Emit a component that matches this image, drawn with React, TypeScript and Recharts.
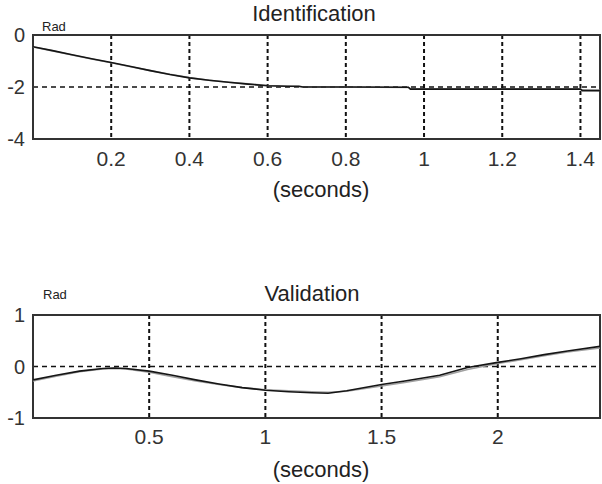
import { CartesianGrid, Line, LineChart, ReferenceArea, XAxis, YAxis } from "recharts";

const FONT = "'Liberation Sans', Arial, sans-serif";

// identification run
const idTime = [0, 0.05, 0.1, 0.15, 0.2, 0.25, 0.3, 0.35, 0.4, 0.45, 0.5, 0.55, 0.6, 0.65, 0.68, 0.69, 0.8, 0.96, 0.965, 1.2, 1.4, 1.405, 1.45];
const idMeasured = [-0.45, -0.6, -0.76, -0.91, -1.06, -1.21, -1.37, -1.52, -1.65, -1.74, -1.82, -1.89, -1.95, -1.97, -1.97, -2.0, -2.0, -2.01, -2.08, -2.08, -2.08, -2.14, -2.14];
const idModel = [-0.46, -0.61, -0.77, -0.92, -1.07, -1.22, -1.37, -1.51, -1.64, -1.74, -1.82, -1.88, -1.94, -1.97, -1.98, -1.99, -2.0, -2.02, -2.06, -2.07, -2.08, -2.12, -2.13];
const idXTicks = [0.2, 0.4, 0.6, 0.8, 1, 1.2, 1.4];
const idYTicks = [-4, -2, 0];

// validation run
const valTime = [0, 0.1, 0.2, 0.3, 0.35, 0.4, 0.5, 0.6, 0.7, 0.8, 0.9, 1.0, 1.1, 1.2, 1.27, 1.35, 1.5, 1.6, 1.75, 1.87, 2.0, 2.1, 2.2, 2.3, 2.44];
const valMeasured = [-0.26, -0.17, -0.09, -0.04, -0.03, -0.04, -0.09, -0.17, -0.26, -0.34, -0.41, -0.46, -0.49, -0.51, -0.52, -0.47, -0.35, -0.28, -0.17, -0.02, 0.08, 0.15, 0.23, 0.3, 0.39];
const valModel = [-0.28, -0.19, -0.1, -0.05, -0.04, -0.05, -0.11, -0.2, -0.28, -0.35, -0.41, -0.45, -0.47, -0.49, -0.5, -0.48, -0.38, -0.31, -0.2, -0.06, 0.06, 0.13, 0.21, 0.28, 0.36];
const valXTicks = [0.5, 1, 1.5, 2];
const valYTicks = [-1, 0, 1];

const idData = idTime.map((t, i) => ({ t, measured: idMeasured[i], model: idModel[i] }));
const valData = valTime.map((t, i) => ({ t, measured: valMeasured[i], model: valModel[i] }));

const tickStyle = { fill: "#333", fontSize: 21, fontFamily: FONT };

function Panel({
  data,
  xMax,
  xTicks,
  yTicks,
  top,
  bottom,
  tickGap,
}: {
  data: { t: number; measured: number; model: number }[];
  xMax: number;
  xTicks: number[];
  yTicks: number[];
  top: number;
  bottom: number;
  tickGap: number;
}) {
  const yMin = yTicks[0];
  const yMax = yTicks[yTicks.length - 1];
  return (
    <LineChart width={602} height={242} data={data} margin={{ top, right: 2, left: 0, bottom }}>
      <CartesianGrid stroke="#111" strokeDasharray="4 3" strokeWidth={2} horizontal={false} />
      <CartesianGrid stroke="#111" strokeDasharray="5 4" strokeWidth={1.5} vertical={false} />
      <XAxis
        dataKey="t"
        type="number"
        domain={[0, xMax]}
        ticks={xTicks}
        tickFormatter={(v) => String(v)}
        axisLine={false}
        tickLine={false}
        tickSize={0}
        tickMargin={tickGap}
        height={30}
        tick={tickStyle}
        allowDataOverflow
      />
      <YAxis
        type="number"
        domain={[yMin, yMax]}
        ticks={yTicks}
        axisLine={false}
        tickLine={false}
        tickSize={0}
        tickMargin={8}
        width={33}
        tick={{ ...tickStyle, fontSize: 20 }}
        allowDataOverflow
      />
      <ReferenceArea x1={0} x2={xMax} y1={yMin} y2={yMax} fill="none" stroke="#333" strokeWidth={2} ifOverflow="visible" />
      <Line dataKey="model" type="linear" stroke="#a0a0a0" strokeWidth={1.6} dot={false} isAnimationActive={false} />
      <Line dataKey="measured" type="linear" stroke="#151515" strokeWidth={1.6} dot={false} isAnimationActive={false} />
    </LineChart>
  );
}

export default function App() {
  return (
    <div style={{ position: "absolute", left: 0, top: 0, width: 602, height: 484, background: "#fff" }}>
      <div style={{ position: "absolute", left: 0, top: 0 }}>
        <Panel data={idData} xMax={1.45} xTicks={idXTicks} yTicks={idYTicks} top={35} bottom={73} tickGap={12} />
      </div>
      <div style={{ position: "absolute", left: 0, top: 242 }}>
        <Panel data={valData} xMax={2.44} xTicks={valXTicks} yTicks={valYTicks} top={73} bottom={36} tickGap={11} />
      </div>
      <svg width={602} height={484} style={{ position: "absolute", left: 0, top: 0, pointerEvents: "none" }}>
        <g fontFamily={FONT} fill="#222">
          <text x={314} y={21} fontSize={22} textAnchor="middle">Identification</text>
          <text x={42} y={31} fontSize={13}>Rad</text>
          <text x={321} y={197} fontSize={22} textAnchor="middle">(seconds)</text>
          <text x={312} y={301} fontSize={22} textAnchor="middle">Validation</text>
          <text x={43} y={299} fontSize={13}>Rad</text>
          <text x={321} y={477} fontSize={22} textAnchor="middle">(seconds)</text>
        </g>
      </svg>
    </div>
  );
}
